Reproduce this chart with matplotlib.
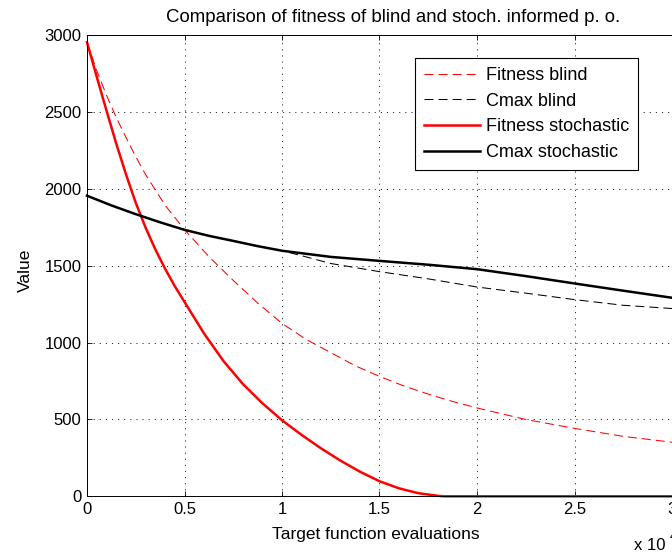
import matplotlib
matplotlib.use("Agg")
import matplotlib.pyplot as plt

plt.rcParams['font.family'] = ['Liberation Sans', 'DejaVu Sans']
plt.rcParams['lines.scale_dashes'] = False

# Evaluations (in units of 1e4) and objective values for each run
x_fit_blind = [0, 0.05, 0.1, 0.15, 0.2, 0.25, 0.3, 0.4, 0.5, 0.625, 0.75, 0.875, 1.0,
               1.125, 1.25, 1.375, 1.5, 1.625, 1.75, 1.875, 2.0, 2.25, 2.5, 2.75, 3.0, 3.12]
fit_blind = [2955, 2770, 2610, 2465, 2335, 2210, 2095, 1895, 1735, 1560, 1405, 1258, 1125,
             1020, 935, 850, 780, 718, 665, 617, 575, 500, 442, 390, 352, 336]

x_cmax_blind = [0, 0.125, 0.25, 0.375, 0.5, 0.625, 0.75, 0.875, 1.0, 1.1, 1.25,
                1.5, 1.75, 2.0, 2.25, 2.5, 2.75, 3.0, 3.12]
cmax_blind = [1956, 1893, 1836, 1783, 1734, 1695, 1662, 1628, 1598, 1566, 1515,
              1462, 1415, 1362, 1322, 1280, 1243, 1222, 1214]

x_fit_stoch = [0, 0.05, 0.1, 0.15, 0.2, 0.25, 0.3, 0.35, 0.4, 0.45, 0.5, 0.6, 0.7, 0.8,
               0.9, 1.0, 1.1, 1.2, 1.3, 1.4, 1.5, 1.6, 1.7, 1.8, 1.83, 2.5, 3.12]
fit_stoch = [2955, 2730, 2510, 2295, 2095, 1910, 1750, 1608, 1482, 1368, 1265, 1060, 880,
             730, 605, 495, 400, 312, 232, 160, 98, 52, 20, 3, 0, 0, 0]

x_cmax_stoch = [0, 0.125, 0.25, 0.375, 0.5, 0.625, 0.75, 0.875, 1.0, 1.25, 1.5,
                1.75, 2.0, 2.25, 2.5, 2.75, 3.0, 3.12]
cmax_stoch = [1956, 1893, 1836, 1783, 1734, 1695, 1662, 1628, 1598, 1558, 1532,
              1507, 1478, 1433, 1385, 1338, 1292, 1270]

labels = ["Fitness blind", "Cmax blind", "Fitness stochastic", "Cmax stochastic"]
x_ticks = [0, 0.5, 1, 1.5, 2, 2.5, 3]
x_tick_labels = ["0", "0.5", "1", "1.5", "2", "2.5", "3"]
y_ticks = [0, 500, 1000, 1500, 2000, 2500, 3000]

W, H = 672, 554
fig = plt.figure(figsize=(W / 100, H / 100), dpi=100)
ax = fig.add_axes([87 / W, 1 - 496.3 / H, 608.4 / W, 461.0 / H])

dash = (0, (6.5, 3.6))
ax.plot(x_fit_blind, fit_blind, color=(1, 0, 0), lw=0.75, linestyle=dash, label=labels[0], clip_on=False)
ax.plot(x_cmax_blind, cmax_blind, color='k', lw=0.75, linestyle=dash, label=labels[1], clip_on=False)
ax.plot(x_fit_stoch, fit_stoch, color=(1, 0, 0), lw=1.8, label=labels[2], clip_on=False)
ax.plot(x_cmax_stoch, cmax_stoch, color='k', lw=1.8, label=labels[3], clip_on=False)

ax.set_xlim(0, 3.12)
ax.set_ylim(0, 3000)
ax.set_xticks(x_ticks)
ax.set_xticklabels(x_tick_labels)
ax.set_yticks(y_ticks)
ax.tick_params(direction='in', length=3.6, width=0.6, top=True, right=True,
               labelsize=12, pad=4, colors='k')
ax.grid(True, color='k', lw=0.6, linestyle=(0, (0.8, 3.6)))
for s in ax.spines.values():
    s.set_linewidth(0.7)

fig.text(393 / W, 1 - 17 / H, "Comparison of fitness of blind and stoch. informed p. o.",
         ha='center', va='center', fontsize=13.4)
fig.text(376 / W, 1 - 535 / H, "Target function evaluations", ha='center', va='center', fontsize=12.5)
fig.text(25 / W, 1 - 270 / H, "Value", ha='center', va='center', rotation=90, fontsize=12.5)
fig.text(634 / W, 1 - 545 / H, "x 10", ha='left', va='center', fontsize=12)
fig.text(670 / W, 1 - 537 / H, "4", ha='left', va='center', fontsize=9)

leg = ax.legend(loc='upper left', bbox_to_anchor=(415 / W, 1 - 58 / H),
                bbox_transform=fig.transFigure, borderaxespad=0, fontsize=13,
                fancybox=False, framealpha=1, edgecolor='k', handlelength=3.1,
                handletextpad=0.33, labelspacing=0.48, borderpad=0.5)
leg.get_frame().set_linewidth(0.8)

fig.savefig("out.png", dpi=100)
